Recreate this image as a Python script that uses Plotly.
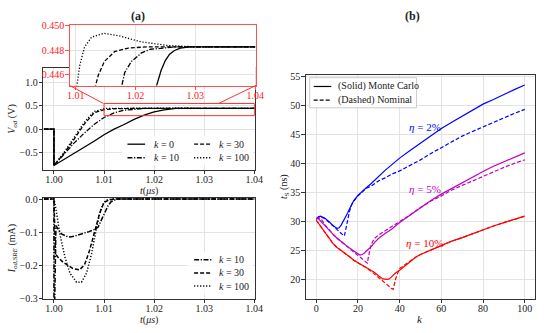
import plotly.graph_objects as go

# ---------------- Panel (a), top: V_od transient (V) ----------------
t_k0 = [0.998, 1.000, 1.000, 1.002, 1.004, 1.006, 1.008, 1.010, 1.012, 1.014, 1.016, 1.018,
        1.020, 1.022, 1.023, 1.0235, 1.0243, 1.0250, 1.0257, 1.0265, 1.0275, 1.0290, 1.0400]
v_k0 = [0.0, 0.0, -0.780, -0.650, -0.530, -0.400, -0.260, -0.120, 0.000, 0.100, 0.210, 0.300,
        0.370, 0.415, 0.435, 0.4451, 0.4464, 0.4472, 0.4477, 0.4480, 0.4482, 0.4483, 0.4483]

t_k10 = [0.998, 1.000, 1.000, 1.002, 1.004, 1.006, 1.008, 1.010, 1.012, 1.014, 1.016, 1.017,
         1.0177, 1.0182, 1.0193, 1.0210, 1.0225, 1.0245, 1.0270, 1.0400]
v_k10 = [0.0, 0.0, -0.780, -0.530, -0.300, -0.090, 0.100, 0.250, 0.350, 0.405, 0.430, 0.440,
         0.4451, 0.4462, 0.4471, 0.4478, 0.4481, 0.4482, 0.4483, 0.4483]

t_k30 = [0.998, 1.000, 1.000, 1.002, 1.004, 1.006, 1.008, 1.010, 1.012, 1.013,
         1.0133, 1.0138, 1.0148, 1.0165, 1.0188, 1.0220, 1.0400]
v_k30 = [0.0, 0.0, -0.780, -0.520, -0.220, 0.100, 0.350, 0.420, 0.438, 0.443,
         0.4451, 0.4460, 0.4471, 0.4479, 0.4482, 0.4483, 0.4483]

t_k100 = [0.998, 1.000, 1.000, 1.002, 1.004, 1.006, 1.008, 1.0095, 1.0102, 1.0107, 1.0115,
          1.0127, 1.0147, 1.0172, 1.0210, 1.0255, 1.0300, 1.0400]
v_k100 = [0.0, 0.0, -0.780, -0.500, -0.180, 0.140, 0.380, 0.435, 0.4451, 0.4468, 0.4483,
          0.4491, 0.4494, 0.4492, 0.4487, 0.4484, 0.4483, 0.4483]

# ---------------- Panel (a), bottom: I_od,SRE (mA) ----------------
ti_k10 = [0.998, 1.000, 1.000, 1.0004, 1.0008, 1.0015, 1.0025, 1.0032, 1.0040, 1.0050, 1.0060,
          1.0070, 1.0080, 1.0088, 1.0095, 1.0102, 1.0108, 1.0114, 1.0120, 1.0126, 1.0400]
i_k10 = [0.0, 0.0, -0.45, -0.080, -0.090, -0.105, -0.112, -0.114, -0.112, -0.108, -0.103,
         -0.098, -0.092, -0.085, -0.062, -0.038, -0.020, -0.008, -0.003, 0.0, 0.0]

ti_k30 = [0.998, 1.000, 1.0003, 1.0008, 1.0018, 1.0028, 1.0038, 1.0051, 1.0061, 1.0071,
          1.0081, 1.0091, 1.0100, 1.0110, 1.0120, 1.0400]
i_k30 = [0.0, 0.0, -0.165, -0.175, -0.190, -0.200, -0.209, -0.213, -0.198, -0.155,
         -0.097, -0.044, -0.010, -0.003, 0.0, 0.0]

ti_k100 = [0.998, 1.000, 1.0004, 1.0012, 1.0022, 1.0032, 1.0045, 1.0055, 1.0065, 1.0075,
           1.0085, 1.0092, 1.0099, 1.0105, 1.0115, 1.0400]
i_k100 = [0.0, 0.0, -0.030, -0.107, -0.175, -0.223, -0.250, -0.250, -0.223, -0.165,
          -0.087, -0.039, -0.012, -0.003, 0.0, 0.0]

# ---------------- Panel (b): t_S (ns) vs k ----------------
k_mc2 = [0, 1, 2, 4, 6, 8, 10, 11, 12, 13, 14, 15, 16, 17, 18, 20, 22, 24, 26, 28, 30, 33, 36,
         40, 45, 50, 55, 60, 65, 70, 75, 80, 85, 90, 95, 100]
ts_mc2 = [30.4, 30.8, 30.9, 30.6, 30.0, 29.3, 28.8, 28.9, 29.4, 30.0, 30.7, 31.4, 32.2, 33.0,
          33.6, 34.5, 35.2, 35.8, 36.4, 37.1, 37.7, 38.8, 39.7, 40.9, 42.2, 43.5, 44.8, 46.0,
          47.1, 48.1, 49.2, 50.2, 51.0, 51.9, 52.7, 53.5]

k_nom2 = [0, 1, 2, 4, 6, 8, 10, 12, 13, 13.5, 14, 15, 16, 17, 18, 20, 22, 24, 26, 28, 30, 33,
          36, 40, 45, 50, 55, 60, 65, 70, 75, 80, 85, 90, 95, 100]
ts_nom2 = [30.4, 30.7, 30.8, 30.5, 29.9, 29.2, 28.6, 27.9, 27.6, 27.5, 28.5, 30.3, 31.8, 32.9,
           33.5, 34.4, 35.1, 35.7, 36.0, 36.5, 37.0, 37.5, 38.1, 38.7, 39.6, 40.6, 41.7, 42.7,
           43.7, 44.7, 45.5, 46.3, 47.1, 47.9, 48.6, 49.3]

k_mc5 = [0, 1, 2, 4, 6, 8, 10, 12, 14, 16, 18, 20, 21, 22, 23, 24, 26, 28, 30, 33, 36, 40, 45,
         50, 55, 60, 65, 70, 75, 80, 85, 90, 95, 100]
ts_mc5 = [30.4, 30.5, 30.1, 29.3, 28.6, 27.8, 27.1, 26.5, 26.0, 25.4, 24.9, 24.4, 24.2, 24.3,
          24.5, 24.9, 25.5, 26.4, 27.1, 27.9, 28.6, 29.8, 31.1, 32.4, 33.6, 34.7, 35.7, 36.6,
          37.6, 38.6, 39.5, 40.3, 41.0, 41.8]

k_nom5 = [0, 1, 2, 3, 4, 6, 8, 10, 12, 14, 16, 18, 20, 22, 23, 24, 24.5, 25, 26, 27, 28, 30,
          33, 36, 40, 45, 50, 55, 60, 65, 70, 75, 80, 85, 90, 95, 100]
ts_nom5 = [30.4, 30.6, 30.5, 30.1, 29.5, 28.6, 27.8, 27.1, 26.5, 26.0, 25.4, 24.8, 24.2, 23.6,
           23.2, 22.9, 22.8, 23.8, 25.6, 26.5, 27.1, 27.7, 28.4, 29.0, 29.9, 31.1, 32.4, 33.5,
           34.4, 35.4, 36.2, 37.0, 37.7, 38.5, 39.3, 40.0, 40.6]

k_mc10 = [0, 1, 2, 4, 6, 8, 10, 12, 14, 16, 18, 20, 22, 24, 26, 28, 30, 32, 34, 35, 36, 37, 38,
          40, 42, 45, 48, 50, 55, 60, 65, 70, 75, 80, 85, 90, 95, 100]
ts_mc10 = [30.2, 29.7, 29.1, 28.0, 27.0, 26.2, 25.5, 25.0, 24.5, 23.9, 23.3, 22.9, 22.5, 22.1,
           21.6, 21.2, 20.6, 20.1, 20.0, 20.1, 20.4, 20.8, 21.1, 21.6, 22.2, 23.1, 23.9, 24.3,
           25.1, 25.9, 26.6, 27.2, 27.9, 28.5, 29.2, 29.8, 30.3, 30.9]

k_nom10 = [0, 1, 2, 4, 6, 8, 10, 12, 14, 16, 18, 20, 22, 24, 26, 28, 30, 32, 34, 36, 36.9, 37.5,
           38, 39, 40, 42, 45, 48, 50, 55, 60, 65, 70, 75, 80, 85, 90, 95, 100]
ts_nom10 = [30.2, 29.7, 29.1, 28.0, 27.0, 26.2, 25.5, 25.0, 24.5, 23.9, 23.3, 22.9, 22.5, 22.0,
            21.5, 20.9, 20.2, 19.6, 19.1, 18.5, 18.3, 19.3, 20.0, 21.0, 21.9, 22.4, 23.2, 23.9,
            24.3, 25.1, 25.8, 26.6, 27.2, 27.9, 28.5, 29.2, 29.8, 30.3, 30.9]

eta_labels = ["\u03b7 = 2%", "\u03b7 = 5%", "\u03b7 = 10%"]
eta_label_k = [52, 52, 52]
eta_label_ts = [46.3, 35.5, 26.3]

# ---------------- styling ----------------
FONT = "Liberation Serif"
TXT = "#222222"
BLUE, MAG, RED = "#0000ff", "#bf00bf", "#ff0000"
DASH = "4px,2px"
DOT = "1.2px,1.8px"
DASHDOT = "5px,1.6px,1.2px,1.6px"
LW = 1.3
W, H = 550, 333


def px_x(p):
    return p / W


def px_y(p):
    return 1 - p / H


fig = go.Figure()

top_series = [(t_k0, v_k0, "k = 0", "solid"),
              (t_k10, v_k10, "k = 10", DASHDOT),
              (t_k30, v_k30, "k = 30", DASH),
              (t_k100, v_k100, "k = 100", DOT)]
for t, v, name, dash in top_series:
    fig.add_trace(go.Scatter(x=t, y=v, mode="lines", name=name, showlegend=False,
                             line=dict(color="black", width=LW, dash=dash),
                             xaxis="x", yaxis="y"))
for t, v, name, dash in top_series:
    fig.add_trace(go.Scatter(x=t, y=v, mode="lines", name=name, showlegend=False,
                             line=dict(color="black", width=LW, dash=dash),
                             xaxis="x4", yaxis="y4"))

bottom_series = [(ti_k10, i_k10, "k = 10", DASHDOT),
                 (ti_k30, i_k30, "k = 30", DASH),
                 (ti_k100, i_k100, "k = 100", DOT)]
for t, v, name, dash in bottom_series:
    fig.add_trace(go.Scatter(x=t, y=v, mode="lines", name=name, showlegend=False,
                             line=dict(color="black", width=1.5, dash=dash),
                             xaxis="x2", yaxis="y2"))

b_series = [(k_mc2, ts_mc2, BLUE, "solid"), (k_nom2, ts_nom2, BLUE, DASH),
            (k_mc5, ts_mc5, MAG, "solid"), (k_nom5, ts_nom5, MAG, DASH),
            (k_mc10, ts_mc10, RED, "solid"), (k_nom10, ts_nom10, RED, DASH)]
for k, ts, col, dash in b_series:
    fig.add_trace(go.Scatter(x=k, y=ts, mode="lines", showlegend=False,
                             line=dict(color=col, width=1.2, dash=dash),
                             xaxis="x3", yaxis="y3"))

tickfont = dict(family=FONT, size=10, color=TXT)
axcommon = dict(showline=True, linecolor="#333", linewidth=1, mirror=True,
                ticks="outside", ticklen=3.5, tickwidth=0.8, tickcolor="#333",
                showgrid=True, gridcolor="#e3e3e3", gridwidth=0.8, zeroline=False,
                tickfont=tickfont)
insetax = dict(showline=True, linecolor="#ff5050", linewidth=1, mirror=True,
               ticks="outside", ticklen=3.5, tickwidth=0.8, tickcolor="#ff5050",
               showgrid=True, gridcolor="#e3e3e3", gridwidth=0.8, zeroline=False,
               tickfont=dict(family=FONT, size=10, color="#ff2020"))
XS = dict(ticklabelstandoff=-3)
YS = dict(ticklabelstandoff=-1)

xa_dom = [px_x(41), px_x(257)]
fig.update_layout(
    width=W, height=H, margin=dict(l=0, r=0, t=0, b=0),
    paper_bgcolor="white", plot_bgcolor="white", showlegend=False,
    font=dict(family=FONT, size=10, color=TXT),
    xaxis=dict(domain=xa_dom, anchor="y", range=[0.99785, 1.0401],
               tickvals=[1.00, 1.01, 1.02, 1.03, 1.04], tickformat=".2f", **XS, **axcommon),
    yaxis=dict(domain=[px_y(170), px_y(65)], anchor="x", range=[-0.875, 1.3125],
               tickvals=[-0.5, 0.0, 0.5, 1.0], tickformat=".1f", **YS, **axcommon),
    xaxis2=dict(domain=xa_dom, anchor="y2", range=[0.99785, 1.0401],
                tickvals=[1.00, 1.01, 1.02, 1.03, 1.04], tickformat=".2f", **XS, **axcommon),
    yaxis2=dict(domain=[px_y(303), px_y(199)], anchor="x2", range=[-0.3004, 0.003],
                tickvals=[-0.3, -0.2, -0.1, 0.0], tickformat=".1f", **YS, **axcommon),
    xaxis3=dict(domain=[px_x(309), px_x(543)], anchor="y3", range=[-5, 105],
                tickvals=[0, 20, 40, 60, 80, 100], **XS, **axcommon),
    yaxis3=dict(domain=[px_y(303), px_y(72)], anchor="x3", range=[16.65, 55.25],
                tickvals=[20, 25, 30, 35, 40, 45, 50, 55], **YS, **axcommon),
    xaxis4=dict(domain=[px_x(68), px_x(258)], anchor="y4", range=[1.009, 1.0401],
                tickvals=[1.01, 1.02, 1.03, 1.04], tickformat=".2f", **XS, **insetax),
    yaxis4=dict(domain=[px_y(83), px_y(21)], anchor="x4", range=[0.44514, 0.45005],
                tickvals=[0.446, 0.448, 0.450], tickformat=".3f", **YS, **insetax),
)

# zoom rectangle and connectors of the inset
red_line = dict(color="#ff3030", width=1)
fig.add_shape(type="rect", xref="x", yref="y", x0=1.01, x1=1.04, y0=0.29, y1=0.552,
              line=red_line, layer="above")
fig.add_shape(type="line", xref="paper", yref="paper", x0=px_x(68), y0=px_y(83),
              x1=px_x(102.5), y1=px_y(101.5), line=red_line, layer="above")
fig.add_shape(type="line", xref="paper", yref="paper", x0=px_x(258), y0=px_y(83),
              x1=px_x(220), y1=px_y(101.5), line=red_line, layer="above")


def text(s, x, y, size=10, color=TXT, xanchor="center", angle=0):
    fig.add_annotation(text=s, x=px_x(x), y=px_y(y), xref="paper", yref="paper",
                       showarrow=False, xanchor=xanchor, yanchor="middle", textangle=angle,
                       borderpad=0, font=dict(family=FONT, size=size, color=color))


def legend_box(x0, x1, y0, y1, border=None):
    fig.add_shape(type="rect", xref="paper", yref="paper", x0=px_x(x0), x1=px_x(x1),
                  y0=px_y(y1), y1=px_y(y0), fillcolor="rgba(255,255,255,0.85)",
                  line=dict(color=border or "rgba(0,0,0,0)", width=1), layer="above")


def legend_item(lx0, lx1, y, dash, label, tx, lw=LW):
    fig.add_shape(type="line", xref="paper", yref="paper", x0=px_x(lx0), x1=px_x(lx1),
                  y0=px_y(y), y1=px_y(y), line=dict(color="black", width=lw, dash=dash),
                  layer="above")
    text(label, tx, y, xanchor="left")


# legend of panel (a) top (two columns)
legend_box(121, 255, 135, 165)
legend_item(127, 145, 143.5, "solid", "<i>k</i> = 0", 153)
legend_item(127, 145, 157.5, DASHDOT, "<i>k</i> = 10", 153)
legend_item(195, 213, 143.5, DASH, "<i>k</i> = 30", 219)
legend_item(195, 213, 157.5, DOT, "<i>k</i> = 100", 219)

# legend of panel (a) bottom
legend_box(189, 255, 255, 298)
legend_item(195, 213, 262.7, DASHDOT, "<i>k</i> = 10", 219, 1.5)
legend_item(195, 213, 276.2, DASH, "<i>k</i> = 30", 219, 1.5)
legend_item(195, 213, 289.8, DOT, "<i>k</i> = 100", 219, 1.5)

# legend of panel (b)
legend_box(313, 422, 75, 106, border="#cccccc")
legend_item(317, 335, 84, "solid", "(Solid) Monte Carlo", 341, 1.2)
legend_item(317, 335, 98, DASH, "(Dashed) Nominal", 341, 1.2)

# panel titles
text("<b>(a)</b>", 138, 11, size=12)
text("<b>(b)</b>", 418, 11, size=12)

# axis titles
text("<i>t</i>(<i>\u03bcs</i>)", 149, 191.5)
text("<i>t</i>(<i>\u03bcs</i>)", 149, 324.5)
text("<i>k</i>", 426, 324, size=11)
text("<i>V</i><sub><i>od</i></sub> (V)", 10, 117.5, angle=-90)
text("<i>I</i><sub><i>od,SRE</i></sub> (mA)", 10, 251, angle=-90)
text("<i>t</i><sub>S</sub> (ns)", 288, 187.5, angle=-90)

for txt, kx, ty, col in zip(eta_labels, eta_label_k, eta_label_ts, [BLUE, MAG, RED]):
    fig.add_annotation(text=txt.replace("\u03b7", "<i>\u03b7</i>"), x=kx, y=ty,
                       xref="x3", yref="y3", showarrow=False,
                       font=dict(family=FONT, size=11, color=col))

fig.write_html("out.html", config={"displayModeBar": False},
               post_script="document.body.style.margin='0px';")
